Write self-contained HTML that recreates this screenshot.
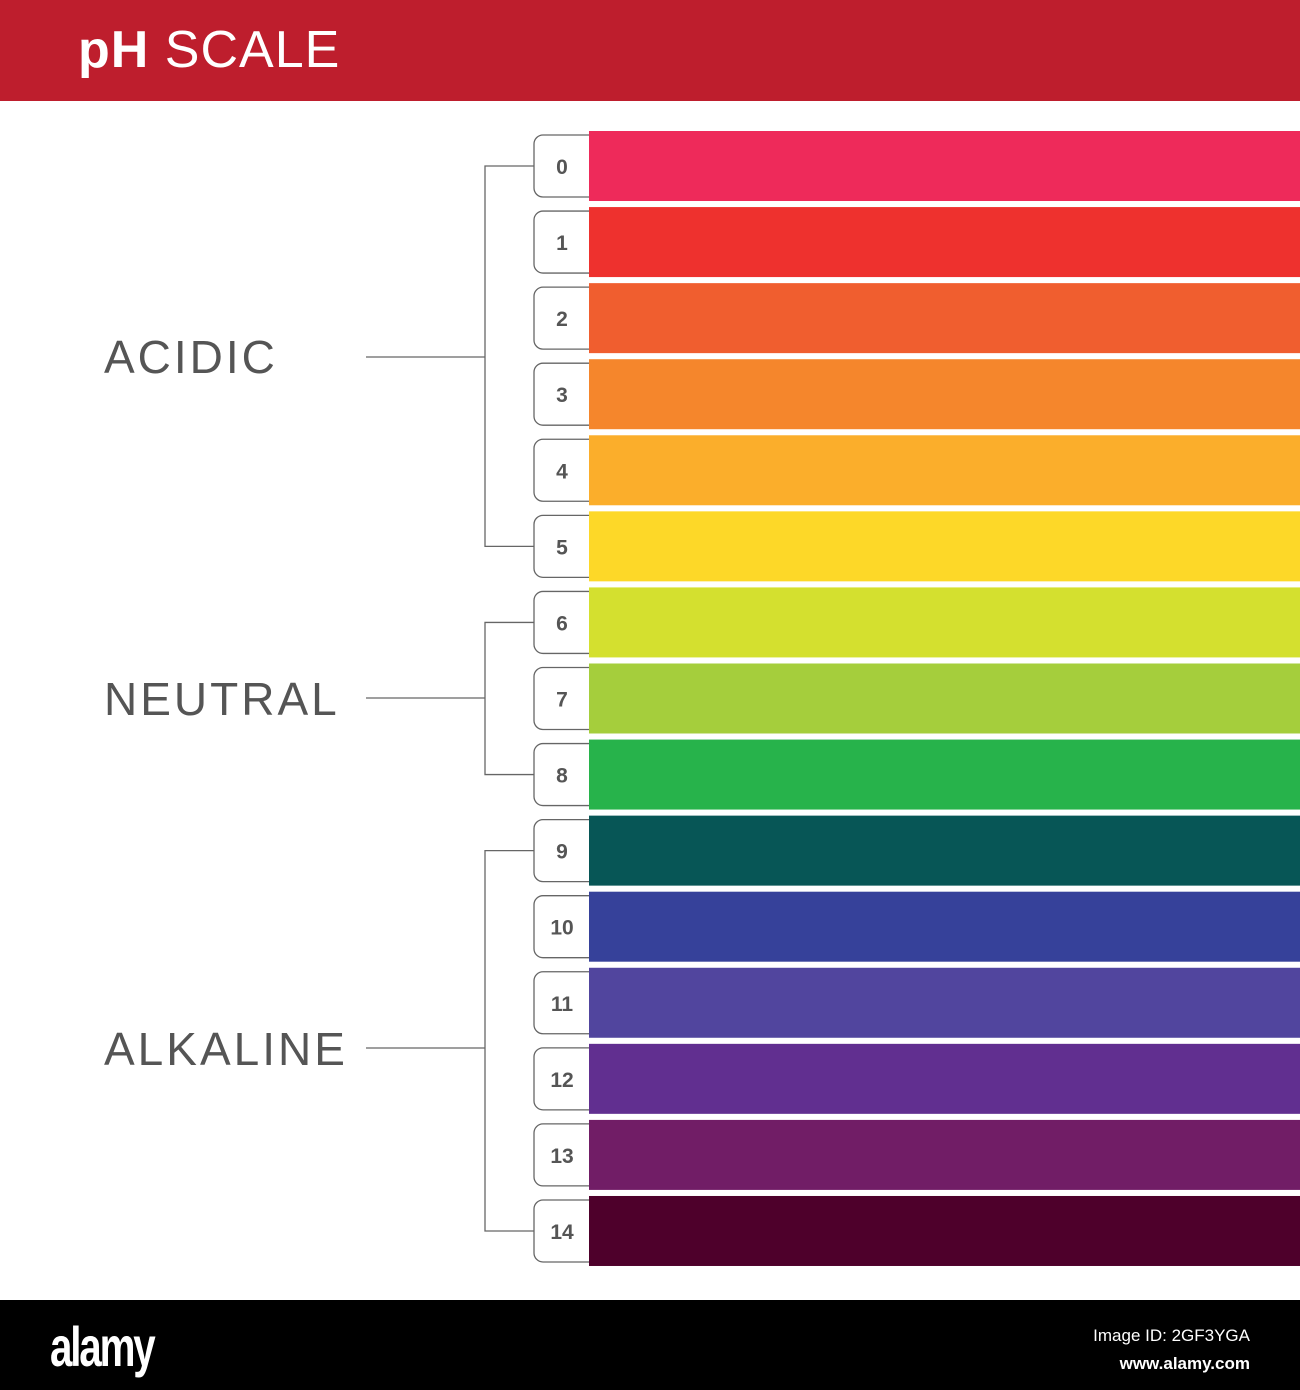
<!DOCTYPE html>
<html><head><meta charset="utf-8"><style>
body{margin:0;width:1300px;height:1390px;background:#fff;font-family:"Liberation Sans",sans-serif;overflow:hidden;position:relative}
.hdr{position:absolute;left:0;top:0;width:1300px;height:101px;background:#BE1E2D}
.title{position:absolute;left:78px;top:20px;color:#fff;font-size:52px;letter-spacing:1px}
.ftr{position:absolute;left:0;top:1300px;width:1300px;height:90px;background:#000;color:#fff}
.lbl{position:absolute;left:104px;color:#555;font-size:46px;letter-spacing:3px;font-weight:300}
</style></head><body>
<div class="hdr"><div class="title"><b>pH</b> SCALE</div></div>
<svg id="chart" width="1300" height="1300" style="position:absolute;left:0;top:0"></svg>
<div class="lbl" style="top:330px">ACIDIC</div>
<div class="lbl" style="top:672px">NEUTRAL</div>
<div class="lbl" style="top:1022px">ALKALINE</div>
<div class="ftr">
<div style="position:absolute;left:50px;top:14px;font-size:56px;font-weight:bold;letter-spacing:-3px;transform:scaleX(0.72);transform-origin:left">alamy</div>
<div style="position:absolute;right:50px;top:22px;font-size:17px;text-align:right;line-height:28px">Image ID: 2GF3YGA<br><b>www.alamy.com</b></div>
</div>
<script>
const phValues=[0,1,2,3,4,5,6,7,8,9,10,11,12,13,14];
const phColors=["#EE2A5A","#EE312E","#F05E2F","#F5862C","#FBAE2B","#FDD828","#D4E02F","#A5CE3C","#27B34B","#075656","#36419A","#51459E","#612F90","#711D66","#4E002B"];
const groupNames=["acidic","neutral","alkaline"];
const groupStart=[0,6,9];
const groupEnd=[5,8,14];
const groupLineY=[357,698,1048];
const svg=document.getElementById('chart');
const NS='http://www.w3.org/2000/svg';
const top0=131,pitch=76.07,barH=70;
function y(i){return top0+i*pitch;}
function mk(t,a){const e=document.createElementNS(NS,t);for(const k in a)e.setAttribute(k,a[k]);svg.appendChild(e);return e;}
phValues.forEach((v,i)=>{
  const r=mk('rect',{x:589,y:y(i),width:711,height:barH,fill:phColors[i]});
  
  
  const b=mk('path',{d:`M589 ${y(i)+4} H543 a9 9 0 0 0 -9 9 V${y(i)+57} a9 9 0 0 0 9 9 H589`,fill:'#fff',stroke:'#666','stroke-width':1.3});
  
  
  const t=mk('text',{x:562,y:y(i)+43,'text-anchor':'middle','font-size':21,'font-weight':'bold',fill:'#555','font-family':'Liberation Sans, sans-serif'});
  t.textContent=v;
  
  
});
groupNames.forEach((g,k)=>{
  const y1=y(groupStart[k])+35,y2=y(groupEnd[k])+35,ym=groupLineY[k];
  const p=mk('path',{d:`M534 ${y1} H485 V${y2} H534 M485 ${ym} H366`,fill:'none',stroke:'#666','stroke-width':1.3});
  
  
});
</script>
</body></html>
